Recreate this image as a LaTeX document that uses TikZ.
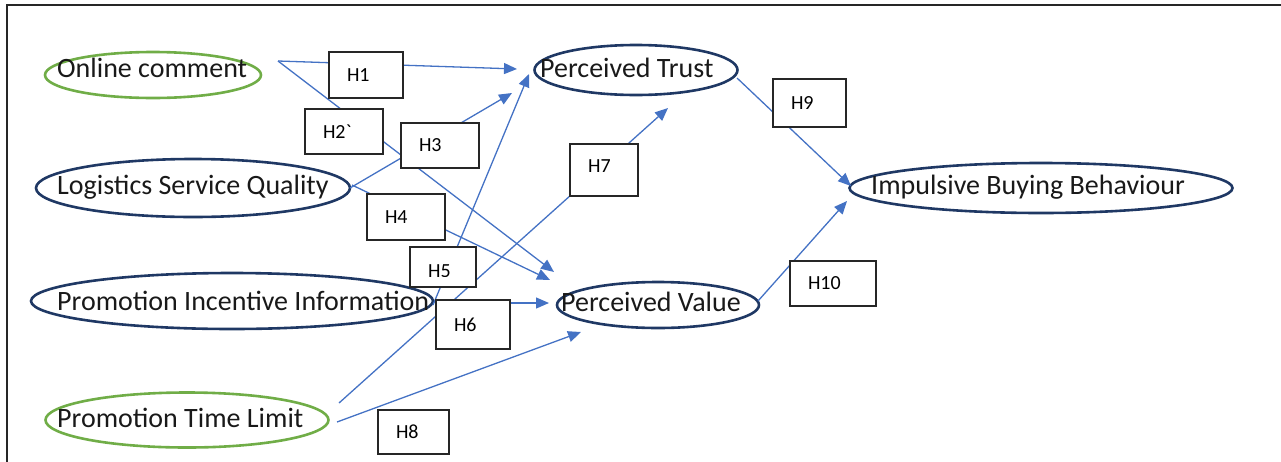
\documentclass[tikz,border=0pt]{standalone}
\usepackage{fontspec}
\setmainfont{Carlito}
\usetikzlibrary{arrows.meta,shapes.geometric}
\definecolor{conn}{HTML}{4472C4}
\definecolor{navy}{HTML}{1F3864}
\definecolor{grn}{HTML}{70AD47}
\definecolor{boxc}{HTML}{262626}
\begin{document}
\begin{tikzpicture}[x=1pt,y=-1pt,
  construct/.style={ellipse,draw=navy,line width=2.6pt,inner sep=0pt},
  greenell/.style={ellipse,draw=grn,line width=2.6pt,inner sep=0pt},
  ctext/.style={anchor=base west,inner sep=0pt,font=\fontsize{28}{32}\selectfont,text=black!90},
  hbox/.style={draw=boxc,fill=white,line width=1.4pt,inner xsep=18pt,inner ysep=0pt,
    align=left,font=\fontsize{20}{24}\selectfont},
  link/.style={draw=conn,line width=1.3pt},
  arr/.style={link,-{Triangle[length=13pt,width=11pt]}}
]
\useasboundingbox (0,0) rectangle (1281,461);
% frame
\draw[line width=2pt,draw=boxc] (7,470) -- (7,5) -- (1290,5);

% construct ellipses
\node[greenell,minimum width=216,minimum height=46] (oc)  at (153,75) {};
\node[construct,minimum width=203,minimum height=50] (pt)  at (636,70) {};
\node[construct,minimum width=314,minimum height=58] (lsq) at (193,188) {};
\node[construct,minimum width=383,minimum height=50] (ibb) at (1041,188) {};
\node[construct,minimum width=402,minimum height=56] (pii) at (232,301) {};
\node[construct,minimum width=202,minimum height=46] (pv)  at (658,305) {};
\node[greenell,minimum width=283,minimum height=55] (ptl) at (187,420) {};

% connector end points
\coordinate (oc-out) at (278,61);
\coordinate (lsq-out1) at (350,188);
\coordinate (lsq-out2) at (352,185);
\coordinate (pii-out1) at (433,305);
\coordinate (pii-out2) at (437,303);
\coordinate (ptl-out1) at (339,403);
\coordinate (ptl-out2) at (337,422);
\coordinate (pt-out) at (737,78);
\coordinate (pv-out) at (758,301);
\coordinate (pt-in1) at (517,69);
\coordinate (pt-in3) at (512,93);
\coordinate (pt-in5) at (529,74);
\coordinate (pt-in7) at (668,108);
\coordinate (pv-in2) at (554,272);
\coordinate (pv-in4) at (550,280);
\coordinate (pv-in6) at (549,303);
\coordinate (pv-in8) at (581,332);
\coordinate (ibb-in9) at (851,186);
\coordinate (ibb-in10) at (847,201);

% connectors
\draw[arr] (oc-out) -- (pt-in1);
\draw[arr] (oc-out) -- (pv-in2);
\draw[arr] (lsq-out1) -- (pt-in3);
\draw[arr] (lsq-out2) -- (pv-in4);
\draw[arr] (pii-out1) -- (pt-in5);
\draw[arr] (pii-out2) -- (pv-in6);
\draw[arr] (ptl-out1) -- (pt-in7);
\draw[arr] (ptl-out2) -- (pv-in8);
\draw[arr] (pt-out) -- (ibb-in9);
\draw[arr] (pv-out) -- (ibb-in10);

% hypothesis boxes
\node[hbox,text width=38,minimum height=46] (h1) at (366,75) {H1};
\node[hbox,text width=42,minimum height=45] (h2) at (344,131.5) {H2\textasciigrave};
\node[hbox,text width=42,minimum height=45] (h3) at (440,145.5) {H3};
\node[hbox,text width=42,minimum height=46] (h4) at (406,217) {H4};
\node[hbox,text width=30,minimum height=40] (h5) at (443,267) {};
\begin{scope}
  \clip (410,247) rectangle (476,276);
  \node[anchor=west,inner sep=0pt,font=\fontsize{20}{24}\selectfont] (h5-t) at (428,271) {H5};
\end{scope}
\node[hbox,text width=38,minimum height=49] (h6) at (473,324.5) {H6};
\node[hbox,text width=32,minimum height=52] (h7) at (604,170) {};
\node[anchor=west,inner sep=0pt,font=\fontsize{20}{24}\selectfont] (h7-t) at (588,166) {H7};
\node[hbox,text width=35,minimum height=44] (h8) at (413.5,432) {H8};
\node[hbox,text width=37,minimum height=48] (h9) at (809.5,103) {H9};
\node[hbox,text width=50,minimum height=45] (h10) at (833,283.5) {H10};

% construct texts
\node[ctext] (oc-t)  at (57,77)  {Online comment};
\node[ctext] (pt-t)  at (540,77) {Perceived Trust};
\node[ctext] (lsq-t) at (57,194) {Logistics Service Quality};
\node[ctext] (ibb-t) at (871,194) {Impulsive Buying Behaviour};
\node[ctext] (pii-t) at (57,310) {Promotion Incentive Information};
\node[ctext] (pv-t)  at (561,311) {Perceived Value};
\node[ctext] (ptl-t) at (57,427) {Promotion Time Limit};
\end{tikzpicture}
\end{document}
